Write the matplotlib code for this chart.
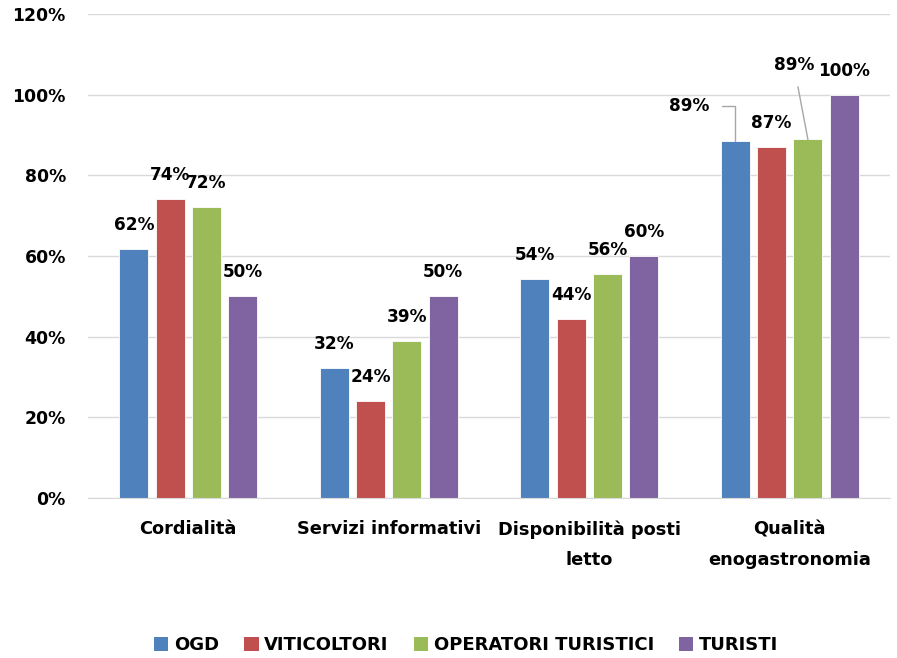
import matplotlib
matplotlib.use("Agg")
import matplotlib.pyplot as plt
from matplotlib.patches import Patch
from matplotlib.ticker import FuncFormatter

categories = ["Cordialità", "Servizi informativi", "Disponibilità posti\nletto", "Qualità\nenogastronomia"]
series_names = ["OGD", "VITICOLTORI", "OPERATORI TURISTICI", "TURISTI"]
ogd = [0.618, 0.322, 0.543, 0.886]
viticoltori = [0.741, 0.240, 0.444, 0.870]
operatori = [0.722, 0.389, 0.556, 0.889]
turisti = [0.50, 0.50, 0.60, 1.00]
series = [ogd, viticoltori, operatori, turisti]
colors = ["#4F81BD", "#C0504D", "#9BBB59", "#8064A2"]
y_ticks = [0, 0.2, 0.4, 0.6, 0.8, 1.0, 1.2]

# label offsets (pixels) for specific labels: (series, category) -> (dx, dy, leader style)
special = {(0, 3): (-46, 35, "angle"), (2, 3): (-14, 74, "straight")}

plt.rcParams["font.family"] = ["DejaVu Sans"]
plt.rcParams["font.weight"] = "bold"

fig = plt.figure(figsize=(8.97, 6.58), dpi=100)
ax = fig.add_axes([88/897, 160/658, 802/897, 484/658])

pitch = 0.181
width = 0.145
for i, (vals, col) in enumerate(zip(series, colors)):
    xs = [c + (i - 1.5) * pitch for c in range(len(categories))]
    ax.bar(xs, vals, width=width, color=col, edgecolor="#ffffff", linewidth=0.6, zorder=3)
    for j, (x, v) in enumerate(zip(xs, vals)):
        txt = f"{round(v*100):d}%"
        if (i, j) in special:
            dx, dy, style = special[(i, j)]
            cs = "angle,angleA=0,angleB=90,rad=0" if style == "angle" else "arc3,rad=0"
            ax.annotate(txt, xy=(x, v), xytext=(dx, dy), textcoords="offset pixels",
                        ha="center", va="center", fontsize=12.2, fontweight="bold",
                        arrowprops=dict(arrowstyle="-", color="#A6A6A6", lw=1,
                                        connectionstyle=cs, shrinkA=7, shrinkB=0),
                        zorder=5)
        else:
            ax.annotate(txt, xy=(x, v), xytext=(0, 24), textcoords="offset pixels",
                        ha="center", va="center", fontsize=12.2, fontweight="bold", zorder=5)

ax.set_xlim(-0.5, len(categories) - 0.5)
ax.set_ylim(0, 1.2)
ax.set_yticks(y_ticks)
ax.yaxis.set_major_formatter(FuncFormatter(lambda v, p: f"{round(v*100):d}%"))
ax.set_xticks(range(len(categories)))
ax.set_xticklabels(categories, linespacing=1.9)
ax.tick_params(axis="y", length=0, pad=16, labelsize=12.4)
ax.tick_params(axis="x", length=0, pad=16, labelsize=12.8)
for lab in ax.get_xticklabels() + ax.get_yticklabels():
    lab.set_fontweight("bold")
ax.grid(axis="y", color="#D9D9D9", linewidth=1, zorder=0)
for s in ["top", "right", "left"]:
    ax.spines[s].set_visible(False)
ax.spines["bottom"].set_color("#D9D9D9")
ax.spines["bottom"].set_zorder(4)

handles = [Patch(facecolor=c, edgecolor="none") for c in colors]
fig.legend(handles, series_names, loc="center", bbox_to_anchor=(466/897, 1 - 645/658),
           ncol=4, frameon=False, handlelength=0.8, handleheight=0.8,
           handletextpad=0.3, columnspacing=1.4,
           prop={"size": 13.0, "weight": "bold"})

fig.savefig("out.png", dpi=100)
